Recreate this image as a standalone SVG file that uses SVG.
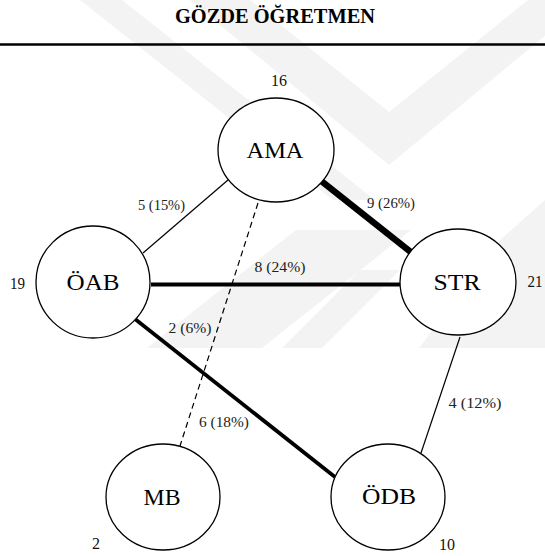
<svg xmlns="http://www.w3.org/2000/svg" width="545" height="556" viewBox="0 0 545 556">
<style>
.wm{fill:#f3f3f3;stroke:none}
.node ellipse{fill:#fff;stroke:#000;stroke-width:1.3}
text{font-family:"Liberation Serif","Times New Roman",serif}
.lbl{font-size:24px;fill:#000;text-anchor:middle}
.num{font-size:16px;fill:#111;text-anchor:middle}
.elbl{font-size:14.5px;fill:#222;text-anchor:middle}
.thin{stroke:#000;stroke-width:1.2;fill:none}
.dash{stroke:#000;stroke-width:1.2;stroke-dasharray:6 4;fill:none}
.mid{stroke:#000;stroke-width:3.8;fill:none}
.heavy{stroke:#000;stroke-width:6.5;fill:none}
</style>
<rect width="545" height="556" fill="#fff"/>
<g id="watermark">
<polygon class="wm" points="80,0 122,0 375,200 333,200"/>
<polygon class="wm" points="190,0 250,0 389,112 528,0 588,0 389,165"/>
<polygon class="wm" points="147,348 262,348 411,230 296,230"/>
<polygon class="wm" points="282,348 322,348 400,270 360,270"/>
<polygon class="wm" points="419,348 545,348 545,200 500,240"/>
</g>
<g id="title">
<text x="275" y="23" font-size="20" font-weight="bold" text-anchor="middle" textLength="200" lengthAdjust="spacingAndGlyphs">GÖZDE ÖĞRETMEN</text>
<line x1="0" y1="44.5" x2="545" y2="44.5" stroke="#000" stroke-width="2.5"/>
</g>
<g id="connectors">
<line class="thin" x1="143" y1="253" x2="228" y2="180"/>
<line class="heavy" x1="320" y1="180" x2="412" y2="253"/>
<line class="mid" x1="151" y1="284.5" x2="400" y2="284.5"/>
<line class="mid" x1="135" y1="319" x2="335" y2="477"/>
<line class="thin" x1="460" y1="337" x2="421" y2="453"/>
<line class="dash" x1="258" y1="203" x2="180" y2="446"/>
<text class="elbl" x="161.5" y="210" textLength="47" lengthAdjust="spacingAndGlyphs">5 (15%)</text>
<text class="elbl" x="391" y="208" textLength="48" lengthAdjust="spacingAndGlyphs">9 (26%)</text>
<text class="elbl" x="280" y="272" textLength="51" lengthAdjust="spacingAndGlyphs">8 (24%)</text>
<text class="elbl" x="190" y="333" textLength="43" lengthAdjust="spacingAndGlyphs">2 (6%)</text>
<text class="elbl" x="224" y="427" textLength="50" lengthAdjust="spacingAndGlyphs">6 (18%)</text>
<text class="elbl" x="475" y="408" textLength="53" lengthAdjust="spacingAndGlyphs">4 (12%)</text>
</g>
<g id="node-AMA" class="node">
<ellipse cx="276" cy="150" rx="58" ry="52"/>
<text class="lbl" x="275" y="158" textLength="57" lengthAdjust="spacingAndGlyphs">AMA</text>
<text class="num" x="279" y="86" textLength="16" lengthAdjust="spacingAndGlyphs">16</text>
</g>
<g id="node-OAB" class="node">
<ellipse cx="93" cy="282" rx="57" ry="56"/>
<text class="lbl" x="93" y="290" textLength="53" lengthAdjust="spacingAndGlyphs">ÖAB</text>
<text class="num" x="17.5" y="289" textLength="15" lengthAdjust="spacingAndGlyphs">19</text>
</g>
<g id="node-STR" class="node">
<ellipse cx="458" cy="282" rx="58" ry="53"/>
<text class="lbl" x="457" y="290" textLength="47" lengthAdjust="spacingAndGlyphs">STR</text>
<text class="num" x="535" y="287" textLength="15" lengthAdjust="spacingAndGlyphs">21</text>
</g>
<g id="node-MB" class="node">
<ellipse cx="163" cy="497" rx="57" ry="53"/>
<text class="lbl" x="162" y="505" textLength="37" lengthAdjust="spacingAndGlyphs">MB</text>
<text class="num" x="96" y="549">2</text>
</g>
<g id="node-ODB" class="node">
<ellipse cx="388" cy="497" rx="57" ry="53"/>
<text class="lbl" x="389" y="504" textLength="54" lengthAdjust="spacingAndGlyphs">ÖDB</text>
<text class="num" x="447" y="550" textLength="16" lengthAdjust="spacingAndGlyphs">10</text>
</g>
</svg>
